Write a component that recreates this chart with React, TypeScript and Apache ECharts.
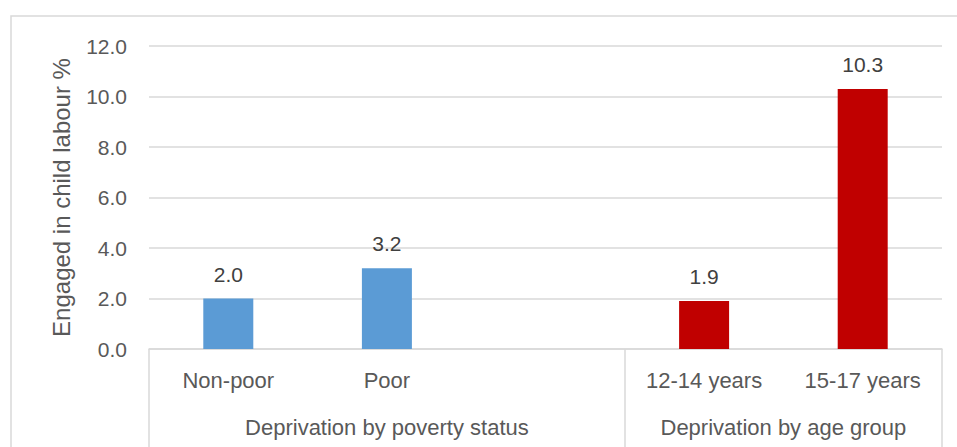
import React, { useEffect, useRef } from "react";
import * as echarts from "echarts";

const categories = ["Non-poor", "Poor", "", "12-14 years", "15-17 years"];
const povertyValues = [2.0, 3.2, null, null, null];
const ageValues = [null, null, null, 1.9, 10.3];
const groupNames = ["Deprivation by poverty status", "Deprivation by age group"];
const groupCenters = [1.5, 4];
const groupBoundaries = [0, 3, 5];
const yTicks = { min: 0, max: 12, interval: 2 };
const yTitle = "Engaged in child labour %";

const FONT = "Liberation Sans";
const AXIS_TEXT = "#595959";
const LABEL_TEXT = "#404040";
const GRID = "#d9d9d9";

export default function App() {
  const ref = useRef<HTMLDivElement>(null);
  useEffect(() => {
    if (!ref.current) return;
    const chart = echarts.init(ref.current, undefined, { renderer: "svg" });
    const label = {
      show: true,
      position: "top",
      distance: 14,
      color: LABEL_TEXT,
      fontFamily: FONT,
      fontSize: 21,
      formatter: (p: any) => (p.value == null ? "" : Number(p.value).toFixed(1)),
    };
    chart.setOption({
      animation: false,
      backgroundColor: "#ffffff",
      textStyle: { fontFamily: FONT },
      graphic: [
        {
          type: "rect",
          z: -10,
          shape: { x: 11, y: 16, width: 1000, height: 500 },
          style: { fill: "none", stroke: GRID, lineWidth: 1.5 },
        },
      ],
      grid: { left: 149, right: 15, top: 46, bottom: 98, outerBoundsMode: "none", containLabel: false },
      xAxis: [
        {
          type: "category",
          data: categories,
          axisLine: { show: true, lineStyle: { color: GRID, width: 1.5 } },
          axisTick: { show: false },
          axisLabel: { color: AXIS_TEXT, fontSize: 22, fontFamily: FONT, margin: 20, interval: 0 },
          splitLine: { show: false },
        },
        {
          type: "value",
          min: 0,
          max: 5,
          position: "bottom",
          axisLine: { show: false },
          splitLine: { show: false },
          axisTick: {
            show: true,
            customValues: groupBoundaries,
            length: 110,
            lineStyle: { color: GRID, width: 1.5 },
          },
          axisLabel: {
            show: true,
            customValues: groupCenters,
            margin: 67,
            color: AXIS_TEXT,
            fontSize: 22,
            fontFamily: FONT,
            formatter: (v: number) => {
              const i = groupCenters.indexOf(v);
              return i >= 0 ? groupNames[i] : "";
            },
          },
        },
      ],
      yAxis: {
        type: "value",
        min: yTicks.min,
        max: yTicks.max,
        interval: yTicks.interval,
        name: yTitle,
        nameLocation: "middle",
        nameGap: 76,
        nameTextStyle: { color: AXIS_TEXT, fontSize: 24, fontFamily: FONT },
        axisLine: { show: false },
        axisTick: { show: false },
        axisLabel: {
          color: AXIS_TEXT,
          fontSize: 21,
          fontFamily: FONT,
          margin: 22,
          formatter: (v: number) => v.toFixed(1),
        },
        splitLine: { lineStyle: { color: GRID, width: 1.5 } },
      },
      series: [
        {
          name: groupNames[0],
          type: "bar",
          stack: "all",
          data: povertyValues,
          barWidth: 50,
          itemStyle: { color: "#5b9bd5" },
          label,
        },
        {
          name: groupNames[1],
          type: "bar",
          stack: "all",
          data: ageValues,
          barWidth: 50,
          itemStyle: { color: "#c00000" },
          label,
        },
      ],
    });
    return () => chart.dispose();
  }, []);
  return (
    <div
      ref={ref}
      style={{ position: "fixed", left: 0, top: 0, width: 957, height: 447 }}
    />
  );
}
